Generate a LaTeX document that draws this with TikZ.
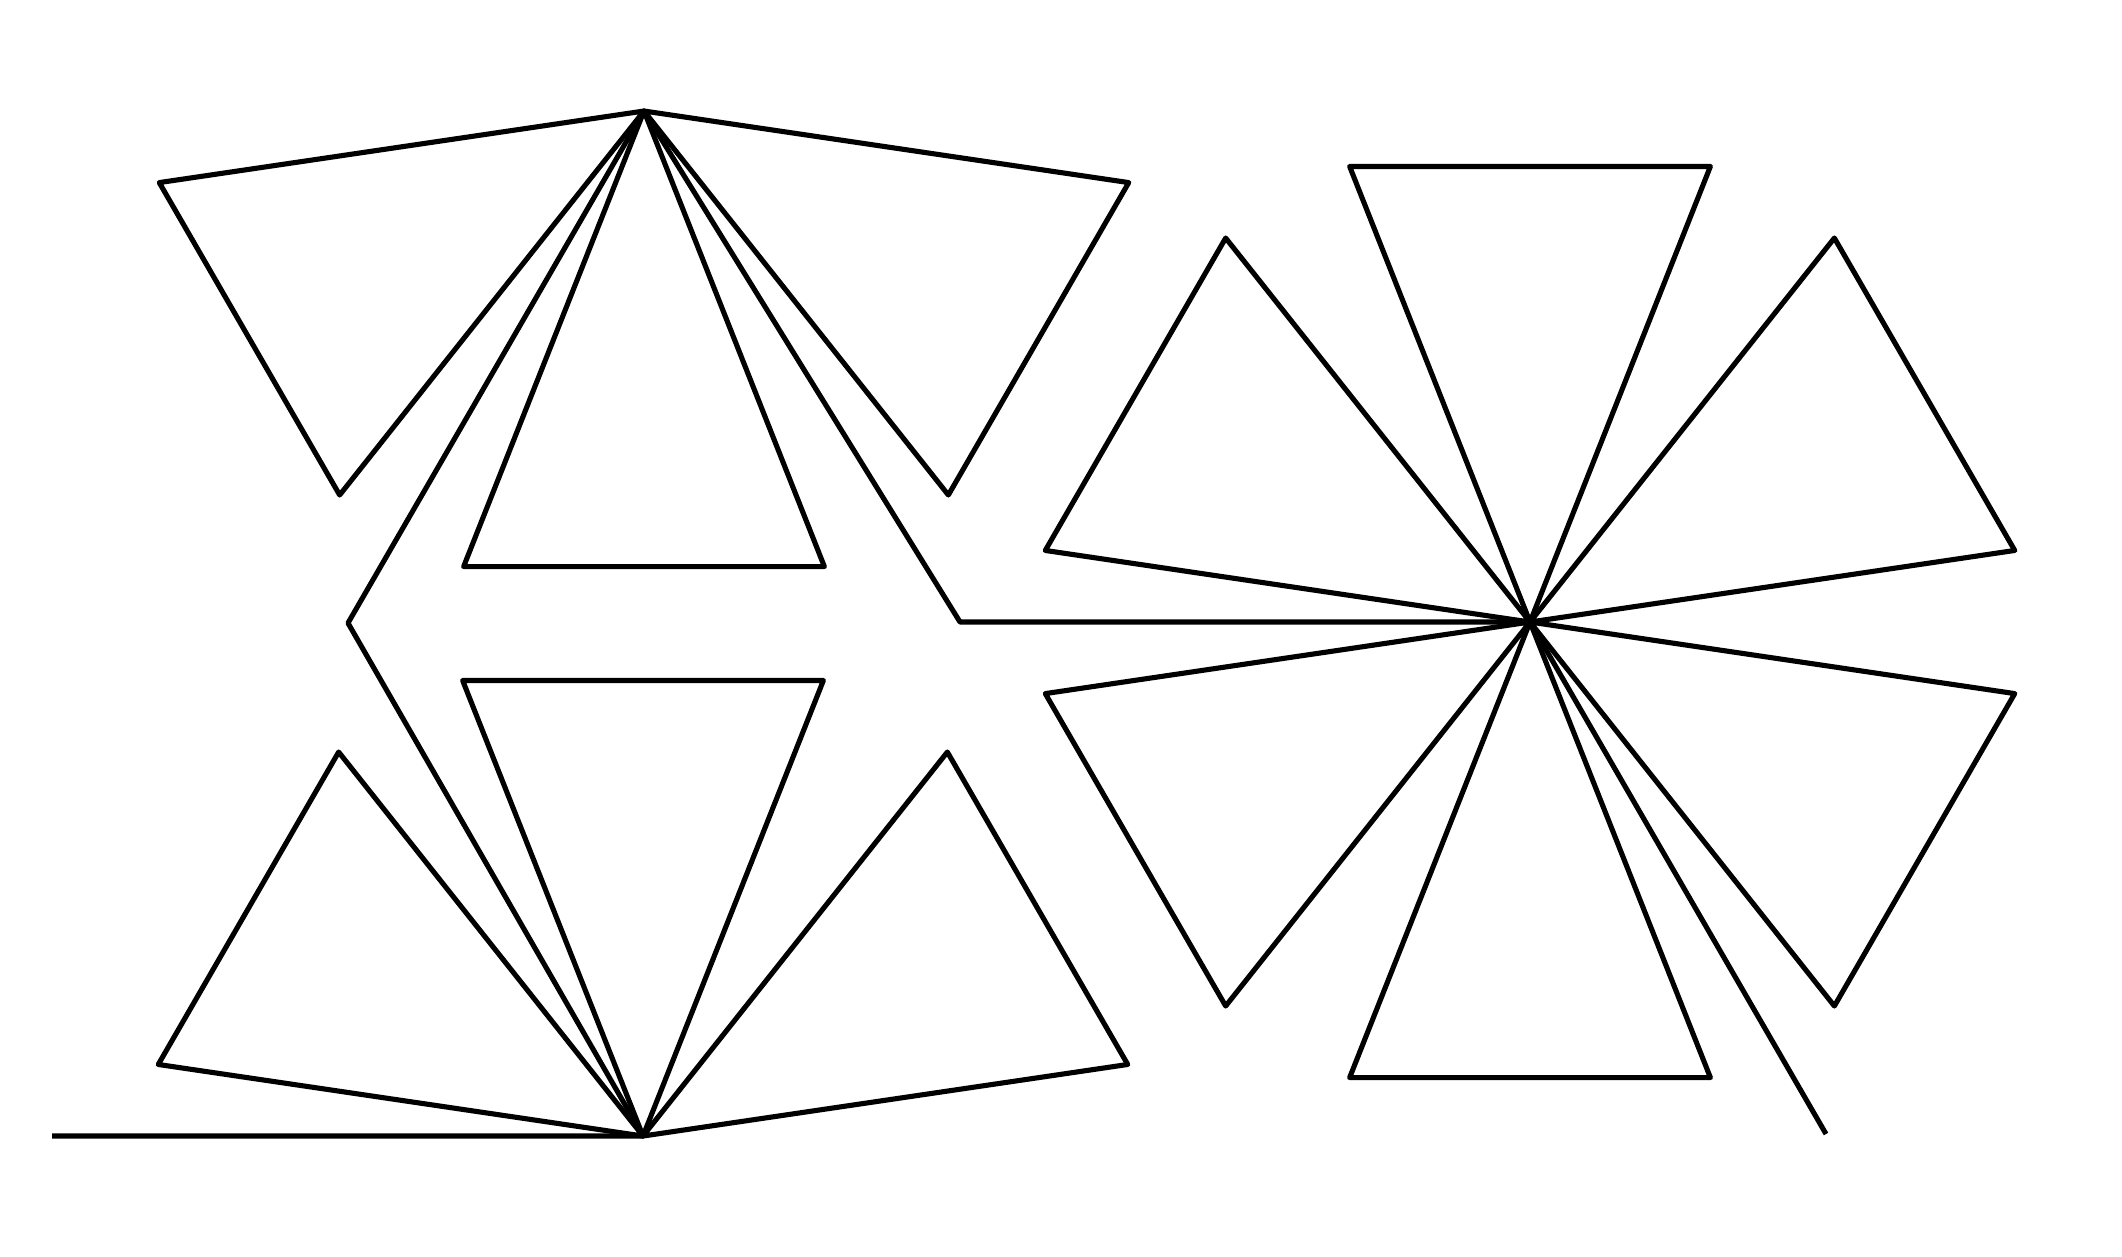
\documentclass[tikz,border=0pt]{standalone}
\begin{document}
\begin{tikzpicture}[x=0.01cm,y=-0.01cm,
  edge/.style={draw=black,line width=1.45pt,line join=round}]
\useasboundingbox (0,0) rectangle (2122,1256);
\def\tris{490}
\def\trih{21.6}
\newcommand\mytri[2]{\draw[edge] (#1) -- +({-(#2)+\trih}:\tris) -- +({-(#2)-\trih}:\tris) -- cycle;}
% key points
\coordinate (S) at (52,1136);
\coordinate (B) at (643,1136);
\coordinate (KL) at (348,623);
\coordinate (T) at (644,111);
\coordinate (KR) at (960,622);
\coordinate (C) at (1530,622);
\coordinate (E) at (1826,1134);
% connecting path
\draw[edge] (S) -- (B) -- (KL) -- (T) -- (KR) -- (C) -- (E);
% triangles at bottom apex
\mytri{B}{150}
\mytri{B}{90}
\mytri{B}{30}
% triangles at top apex
\mytri{T}{210}
\mytri{T}{270}
\mytri{T}{330}
% triangles around centre
\mytri{C}{90}
\mytri{C}{30}
\mytri{C}{150}
\mytri{C}{-30}
\mytri{C}{-150}
\mytri{C}{-90}
\end{tikzpicture}
\end{document}
